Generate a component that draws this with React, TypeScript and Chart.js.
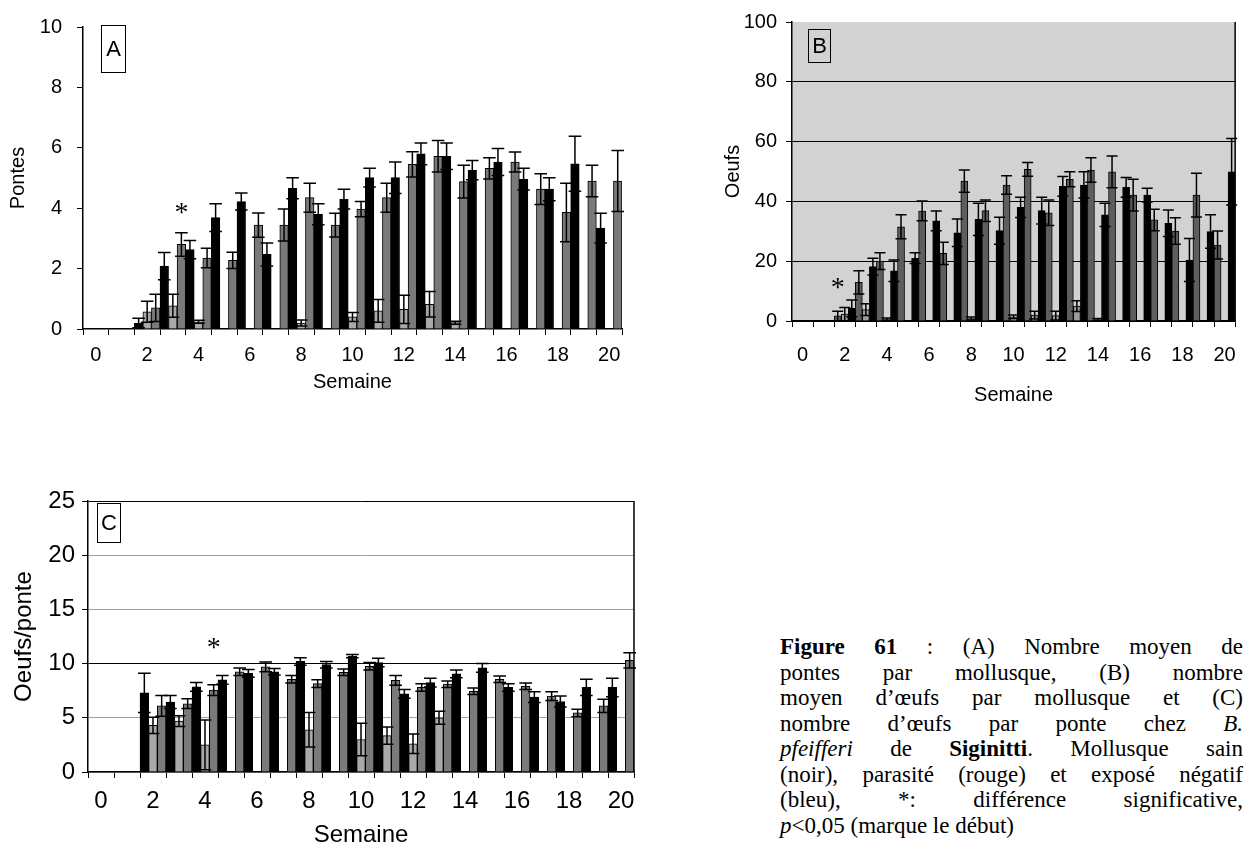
import React, { useEffect, useRef } from 'react';
import { Chart, registerables } from 'chart.js';

Chart.register(...registerables);

// ---------- DATA ----------
const weeks = ['0', '1', '2', '3', '4', '5', '6', '7', '8', '9', '10', '11', '12', '13', '14', '15', '16', '17', '18', '19', '20'];

// (A) Pontes par mollusque
const pontesSain = [null, null, 0.2, 2.08, 2.63, 3.69, 4.22, 2.47, 4.66, 3.8, 4.3, 5.01, 5.01, 5.8, 5.72, 5.26, 5.53, 4.96, 4.63, 5.47, 3.34];
const pontesSainErr = [0, 0, 0.16, 0.45, 0.3, 0.46, 0.28, 0.38, 0.35, 0.35, 0.33, 0.31, 0.52, 0.36, 0.44, 0.32, 0.45, 0.36, 0.38, 0.91, 0.49];
const pontesExpose = [null, null, 0.57, 0.77, 0.24, null, null, null, 0.2, null, 0.4, 0.6, 0.65, 0.82, 0.21, null, null, null, null, null, null];
const pontesExposeErr = [0, 0, 0.35, 0.38, 0.05, 0, 0, 0, 0.1, 0, 0.15, 0.38, 0.47, 0.42, 0.05, 0, 0, 0, 0, 0, 0];
const pontesParasite = [null, null, 0.7, 2.8, 2.35, 2.27, 3.44, 3.44, 4.35, 3.44, 3.97, 4.35, 5.45, 5.72, 4.88, 5.32, 5.53, 4.63, 3.86, 4.9, 4.9];
const pontesParasiteErr = [0, 0, 0.45, 0.39, 0.32, 0.27, 0.4, 0.53, 0.48, 0.39, 0.25, 0.48, 0.42, 0.52, 0.54, 0.35, 0.33, 0.51, 0.97, 0.52, 1.01];

// (B) Oeufs par mollusque
const oeufsSain = [null, null, 1.7, 12.9, 20, 31.5, 36.8, 22.6, 46.8, 36.9, 45.5, 50.7, 36.2, 47.4, 50.5, 49.9, 42.1, 33.8, 30.1, 42.1, 25.4];
const oeufsSainErr = [0, 0, 1.6, 3.9, 2.8, 4, 3.3, 3.7, 3.7, 3.6, 3.1, 2.3, 4.3, 2.5, 4.1, 5.3, 5.3, 3.6, 4.4, 7.3, 4.7];
const oeufsExpose = [null, null, 2.3, 3.8, 0.6, null, null, null, 0.8, null, 1.4, 2.0, 1.8, 5.0, 0.5, null, null, null, null, null, null];
const oeufsExposeErr = [0, 0, 2.2, 2.0, 0.4, 0, 0, 0, 0.5, 0, 0.6, 1.3, 1.5, 1.8, 0.3, 0, 0, 0, 0, 0, 0];
const oeufsParasite = [null, null, 4.2, 18.2, 16.8, 21, 33.5, 29.5, 34, 30.2, 38, 36.9, 45, 45.5, 35.5, 44.7, 42.1, 32.7, 20.4, 29.9, 49.9];
const oeufsParasiteErr = [0, 0, 2.8, 2.8, 3.6, 1.8, 3.3, 4.6, 5.4, 4.5, 3.4, 4.5, 3.3, 4.4, 3.9, 3.3, 2.3, 4.4, 7.2, 5.6, 11.1];

// (C) Oeufs par ponte
const parPonteSain = [null, null, 7.3, 6.45, 7.85, 8.5, 9.1, 9.25, 10.2, 9.9, 10.7, 10.1, 7.2, 8.25, 9.05, 9.6, 7.8, 6.9, 6.5, 7.8, 7.8];
const parPonteSainErr = [0, 0, 1.8, 0.6, 0.4, 0.4, 0.35, 0.3, 0.35, 0.3, 0.15, 0.4, 0.4, 0.4, 0.35, 0.4, 0.35, 0.5, 0.5, 0.75, 0.85];
const parPonteExpose = [null, null, 4.3, 4.7, 2.5, null, null, null, 3.9, null, 3.0, 3.35, 2.6, 5.0, null, null, null, null, null, null, null];
const parPonteExposeErr = [0, 0, 0.75, 0.5, 2.3, 0, 0, 0, 1.6, 0, 1.5, 0.8, 0.9, 0.6, 0, 0, 0, 0, 0, 0, 0];
const parPonteParasite = [null, null, 6.1, 6.3, 7.55, 9.25, 9.7, 8.55, 8.15, 9.2, 9.75, 8.45, 7.8, 8.1, 7.45, 8.55, 7.9, 7.0, 5.45, 6.1, 10.3];
const parPonteParasiteErr = [0, 0, 0.95, 0.45, 0.5, 0.35, 0.45, 0.35, 0.35, 0.3, 0.35, 0.45, 0.35, 0.3, 0.3, 0.3, 0.3, 0.4, 0.35, 0.6, 0.7];

// significance markers (week index, series index, height in axis units)
const starA = { week: 3, series: 2, value: 4.05 };
const starB = { week: 2, series: 0, value: 13.1 };
const starC = { week: 4, series: 2, value: 12.0 };

// ---------- STYLE ----------
const SANS = '"Liberation Sans", Arial, sans-serif';
const SERIF = '"Liberation Serif", "Times New Roman", serif';

const errorBars = {
  id: 'errorBars',
  afterDatasetsDraw(chart: any) {
    const ctx = chart.ctx;
    const ys = chart.scales.y;
    chart.data.datasets.forEach((ds: any, i: number) => {
      const meta = chart.getDatasetMeta(i);
      meta.data.forEach((el: any, j: number) => {
        const v = ds.data[j];
        const e = ds.errors ? ds.errors[j] : 0;
        if (v == null || !e) return;
        const x = el.x;
        const hw = el.width / 2 + 2;
        const yt = ys.getPixelForValue(v + e);
        const yb = ys.getPixelForValue(Math.max(0, v - e));
        ctx.save();
        ctx.strokeStyle = '#000';
        ctx.lineWidth = 1.5;
        ctx.beginPath();
        ctx.moveTo(x, yt);
        ctx.lineTo(x, yb);
        ctx.moveTo(x - hw, yt);
        ctx.lineTo(x + hw, yt);
        ctx.moveTo(x - hw, yb);
        ctx.lineTo(x + hw, yb);
        ctx.stroke();
        ctx.restore();
      });
    });
  },
};

const frame = {
  id: 'frame',
  beforeDraw(chart: any, _a: any, opts: any) {
    if (!opts || !opts.bg) return;
    const { left, top, right, bottom } = chart.chartArea;
    const ctx = chart.ctx;
    ctx.save();
    ctx.fillStyle = opts.bg;
    ctx.fillRect(left, top, right - left, bottom - top);
    ctx.restore();
  },
  afterDraw(chart: any, _a: any, opts: any) {
    if (!opts) return;
    const { left, top, right, bottom } = chart.chartArea;
    const ctx = chart.ctx;
    ctx.save();
    ctx.strokeStyle = '#000';
    ctx.lineWidth = 1.5;
    ctx.beginPath();
    if (opts.right) {
      ctx.moveTo(right, top);
      ctx.lineTo(right, bottom);
    }
    if (opts.top) {
      ctx.moveTo(left, top);
      ctx.lineTo(right, top);
    }
    ctx.stroke();
    ctx.restore();
  },
};

const star = {
  id: 'star',
  afterDatasetsDraw(chart: any, _a: any, opts: any) {
    if (!opts || opts.week == null) return;
    const el = chart.getDatasetMeta(opts.series).data[opts.week];
    if (!el) return;
    const y = chart.scales.y.getPixelForValue(opts.value);
    const ctx = chart.ctx;
    ctx.save();
    ctx.fillStyle = '#000';
    ctx.font = `28px ${SERIF}`;
    ctx.textAlign = 'center';
    ctx.textBaseline = 'alphabetic';
    ctx.fillText('*', el.x, y + 14);
    ctx.restore();
  },
};

type Series = { label: string; data: (number | null)[]; err: number[]; color: string };

type Spec = {
  left: number;
  top: number;
  width: number;
  height: number;
  area: { left: number; top: number; right: number; bottom: number };
  series: Series[];
  yMax: number;
  yStep: number;
  yTitle: string;
  font: number;
  xLabelPad: number;
  xTitlePad: number;
  yLabelPad: number;
  yTitlePad: number;
  drawGrid: boolean;
  gridColor: (v: number) => string;
  bg?: string;
  right?: boolean;
  topLine?: boolean;
  mark: { week: number; series: number; value: number };
};

function buildConfig(s: Spec): any {
  const font = { family: SANS, size: s.font };
  return {
    type: 'bar',
    data: {
      labels: weeks,
      datasets: s.series.map((d) => ({
        label: d.label,
        data: d.data,
        errors: d.err,
        backgroundColor: d.color,
        borderColor: '#000',
        borderWidth: 1,
        categoryPercentage: 1,
        barPercentage: 1,
      })),
    },
    options: {
      responsive: false,
      maintainAspectRatio: false,
      animation: false,
      layout: { padding: { left: 0, top: s.area.top, right: s.width - s.area.right, bottom: 0 } },
      plugins: {
        legend: { display: false },
        tooltip: { enabled: false },
        frame: { bg: s.bg, right: s.right, top: s.topLine },
        star: s.mark,
      },
      scales: {
        x: {
          type: 'category',
          offset: true,
          grid: { offset: true, drawOnChartArea: false, drawTicks: true, tickLength: 6, color: '#000', tickColor: '#000', lineWidth: 1 },
          border: { display: true, color: '#000', width: 1.5 },
          ticks: {
            autoSkip: false,
            maxRotation: 0,
            minRotation: 0,
            padding: s.xLabelPad,
            color: '#000',
            font,
            callback: (_v: any, i: number) => (i % 2 === 0 ? weeks[i] : ''),
          },
          title: { display: true, text: 'Semaine', color: '#000', font, padding: { top: 0, bottom: s.xTitlePad } },
          afterFit: (sc: any) => {
            sc.height = s.height - s.area.bottom;
          },
        },
        y: {
          min: 0,
          max: s.yMax,
          ticks: { stepSize: s.yStep, padding: s.yLabelPad, color: '#000', font },
          grid: {
            drawOnChartArea: s.drawGrid,
            drawTicks: true,
            tickLength: 6,
            tickColor: '#000',
            color: (c: any) => (c.tick ? s.gridColor(c.tick.value) : '#000'),
            lineWidth: 1,
          },
          border: { display: true, color: '#000', width: 1.5 },
          title: { display: true, text: s.yTitle, color: '#000', font, padding: { top: s.yTitlePad, bottom: 0 } },
          afterFit: (sc: any) => {
            sc.width = s.area.left;
          },
        },
      },
    },
    plugins: [errorBars, frame, star],
  };
}

const LIGHT = '#a9a9a9';
const MID = '#7a7a7a';

const specA: Spec = {
  left: 0,
  top: 0,
  width: 660,
  height: 400,
  area: { left: 83, top: 25, right: 622, bottom: 329 },
  series: [
    { label: 'Sain', data: pontesSain, err: pontesSainErr, color: '#000' },
    { label: 'Exposé négatif', data: pontesExpose, err: pontesExposeErr, color: LIGHT },
    { label: 'Parasité', data: pontesParasite, err: pontesParasiteErr, color: MID },
  ],
  yMax: 10,
  yStep: 2,
  yTitle: 'Pontes',
  font: 20,
  xLabelPad: 8,
  xTitlePad: 6,
  yLabelPad: 15,
  yTitlePad: 6,
  drawGrid: false,
  gridColor: () => '#000',
  mark: starA,
};

const specB: Spec = {
  left: 700,
  top: 0,
  width: 552,
  height: 420,
  area: { left: 92, top: 22, right: 1240 - 700, bottom: 321 },
  series: [
    { label: 'Sain', data: oeufsSain, err: oeufsSainErr, color: '#5e5e5e' },
    { label: 'Exposé négatif', data: oeufsExpose, err: oeufsExposeErr, color: '#9c9c9c' },
    { label: 'Parasité', data: oeufsParasite, err: oeufsParasiteErr, color: '#000' },
  ],
  yMax: 100,
  yStep: 20,
  yTitle: 'Oeufs',
  font: 20,
  xLabelPad: 16,
  xTitlePad: 13,
  yLabelPad: 9,
  yTitlePad: 21,
  drawGrid: true,
  gridColor: (v) => (v === 100 ? 'rgba(0,0,0,0)' : '#000'),
  bg: '#d2d2d2',
  right: true,
  mark: starB,
};

const specC: Spec = {
  left: 0,
  top: 460,
  width: 660,
  height: 392,
  area: { left: 88, top: 41, right: 634, bottom: 312 },
  series: [
    { label: 'Sain', data: parPonteSain, err: parPonteSainErr, color: '#000' },
    { label: 'Exposé négatif', data: parPonteExpose, err: parPonteExposeErr, color: LIGHT },
    { label: 'Parasité', data: parPonteParasite, err: parPonteParasiteErr, color: MID },
  ],
  yMax: 25,
  yStep: 5,
  yTitle: 'Oeufs/ponte',
  font: 24,
  xLabelPad: 9,
  xTitlePad: 2,
  yLabelPad: 7,
  yTitlePad: 10,
  drawGrid: true,
  gridColor: (v) => (v === 10 || v === 25 ? '#000' : '#a0a0a0'),
  right: true,
  mark: starC,
};

function Panel({ spec }: { spec: Spec }) {
  const ref = useRef<HTMLCanvasElement>(null);
  useEffect(() => {
    if (!ref.current) return;
    const chart = new Chart(ref.current, buildConfig(spec));
    return () => chart.destroy();
  }, [spec]);
  return (
    <canvas
      ref={ref}
      width={spec.width}
      height={spec.height}
      style={{ position: 'absolute', left: spec.left, top: spec.top, width: spec.width, height: spec.height }}
    />
  );
}

function LetterBox({ letter, left, top, w, h }: { letter: string; left: number; top: number; w: number; h: number }) {
  return (
    <div
      style={{
        position: 'absolute',
        left,
        top,
        width: w,
        height: h,
        border: '1px solid #000',
        boxSizing: 'border-box',
        fontFamily: SANS,
        fontSize: 22,
        lineHeight: `${h - 2}px`,
        textAlign: 'center',
        color: '#000',
      }}
    >
      {letter}
    </div>
  );
}

const captionLines: React.ReactNode[] = [
  <>
    <b>Figure 61</b> : (A) Nombre moyen de
  </>,
  <>pontes par mollusque, (B) nombre</>,
  <>moyen d’œufs par mollusque et (C)</>,
  <>
    nombre d’œufs par ponte chez <i>B.</i>
  </>,
  <>
    <i>pfeifferi</i> de <b>Siginitti</b>. Mollusque sain
  </>,
  <>(noir), parasité (rouge) et exposé négatif</>,
  <>(bleu), *: différence significative,</>,
  <>
    <i>p</i>&lt;0,05 (marque le début)
  </>,
];

export default function App() {
  return (
    <div style={{ position: 'absolute', left: 0, top: 0, width: 1252, height: 852, background: '#fff', overflow: 'hidden' }}>
      <Panel spec={specA} />
      <Panel spec={specB} />
      <Panel spec={specC} />
      <LetterBox letter="A" left={101} top={25} w={25} h={48} />
      <LetterBox letter="B" left={808} top={29} w={23} h={34} />
      <LetterBox letter="C" left={97} top={503} w={24} h={40} />
      <div
        style={{
          position: 'absolute',
          left: 780,
          top: 634,
          width: 463,
          fontFamily: SERIF,
          fontSize: 23,
          lineHeight: '25.5px',
          color: '#000',
        }}
      >
        {captionLines.map((l, i) => (
          <div
            key={i}
            style={{
              textAlign: 'justify',
              textAlignLast: i === captionLines.length - 1 ? 'left' : 'justify',
              whiteSpace: 'nowrap',
            }}
          >
            {l}
          </div>
        ))}
      </div>
    </div>
  );
}
